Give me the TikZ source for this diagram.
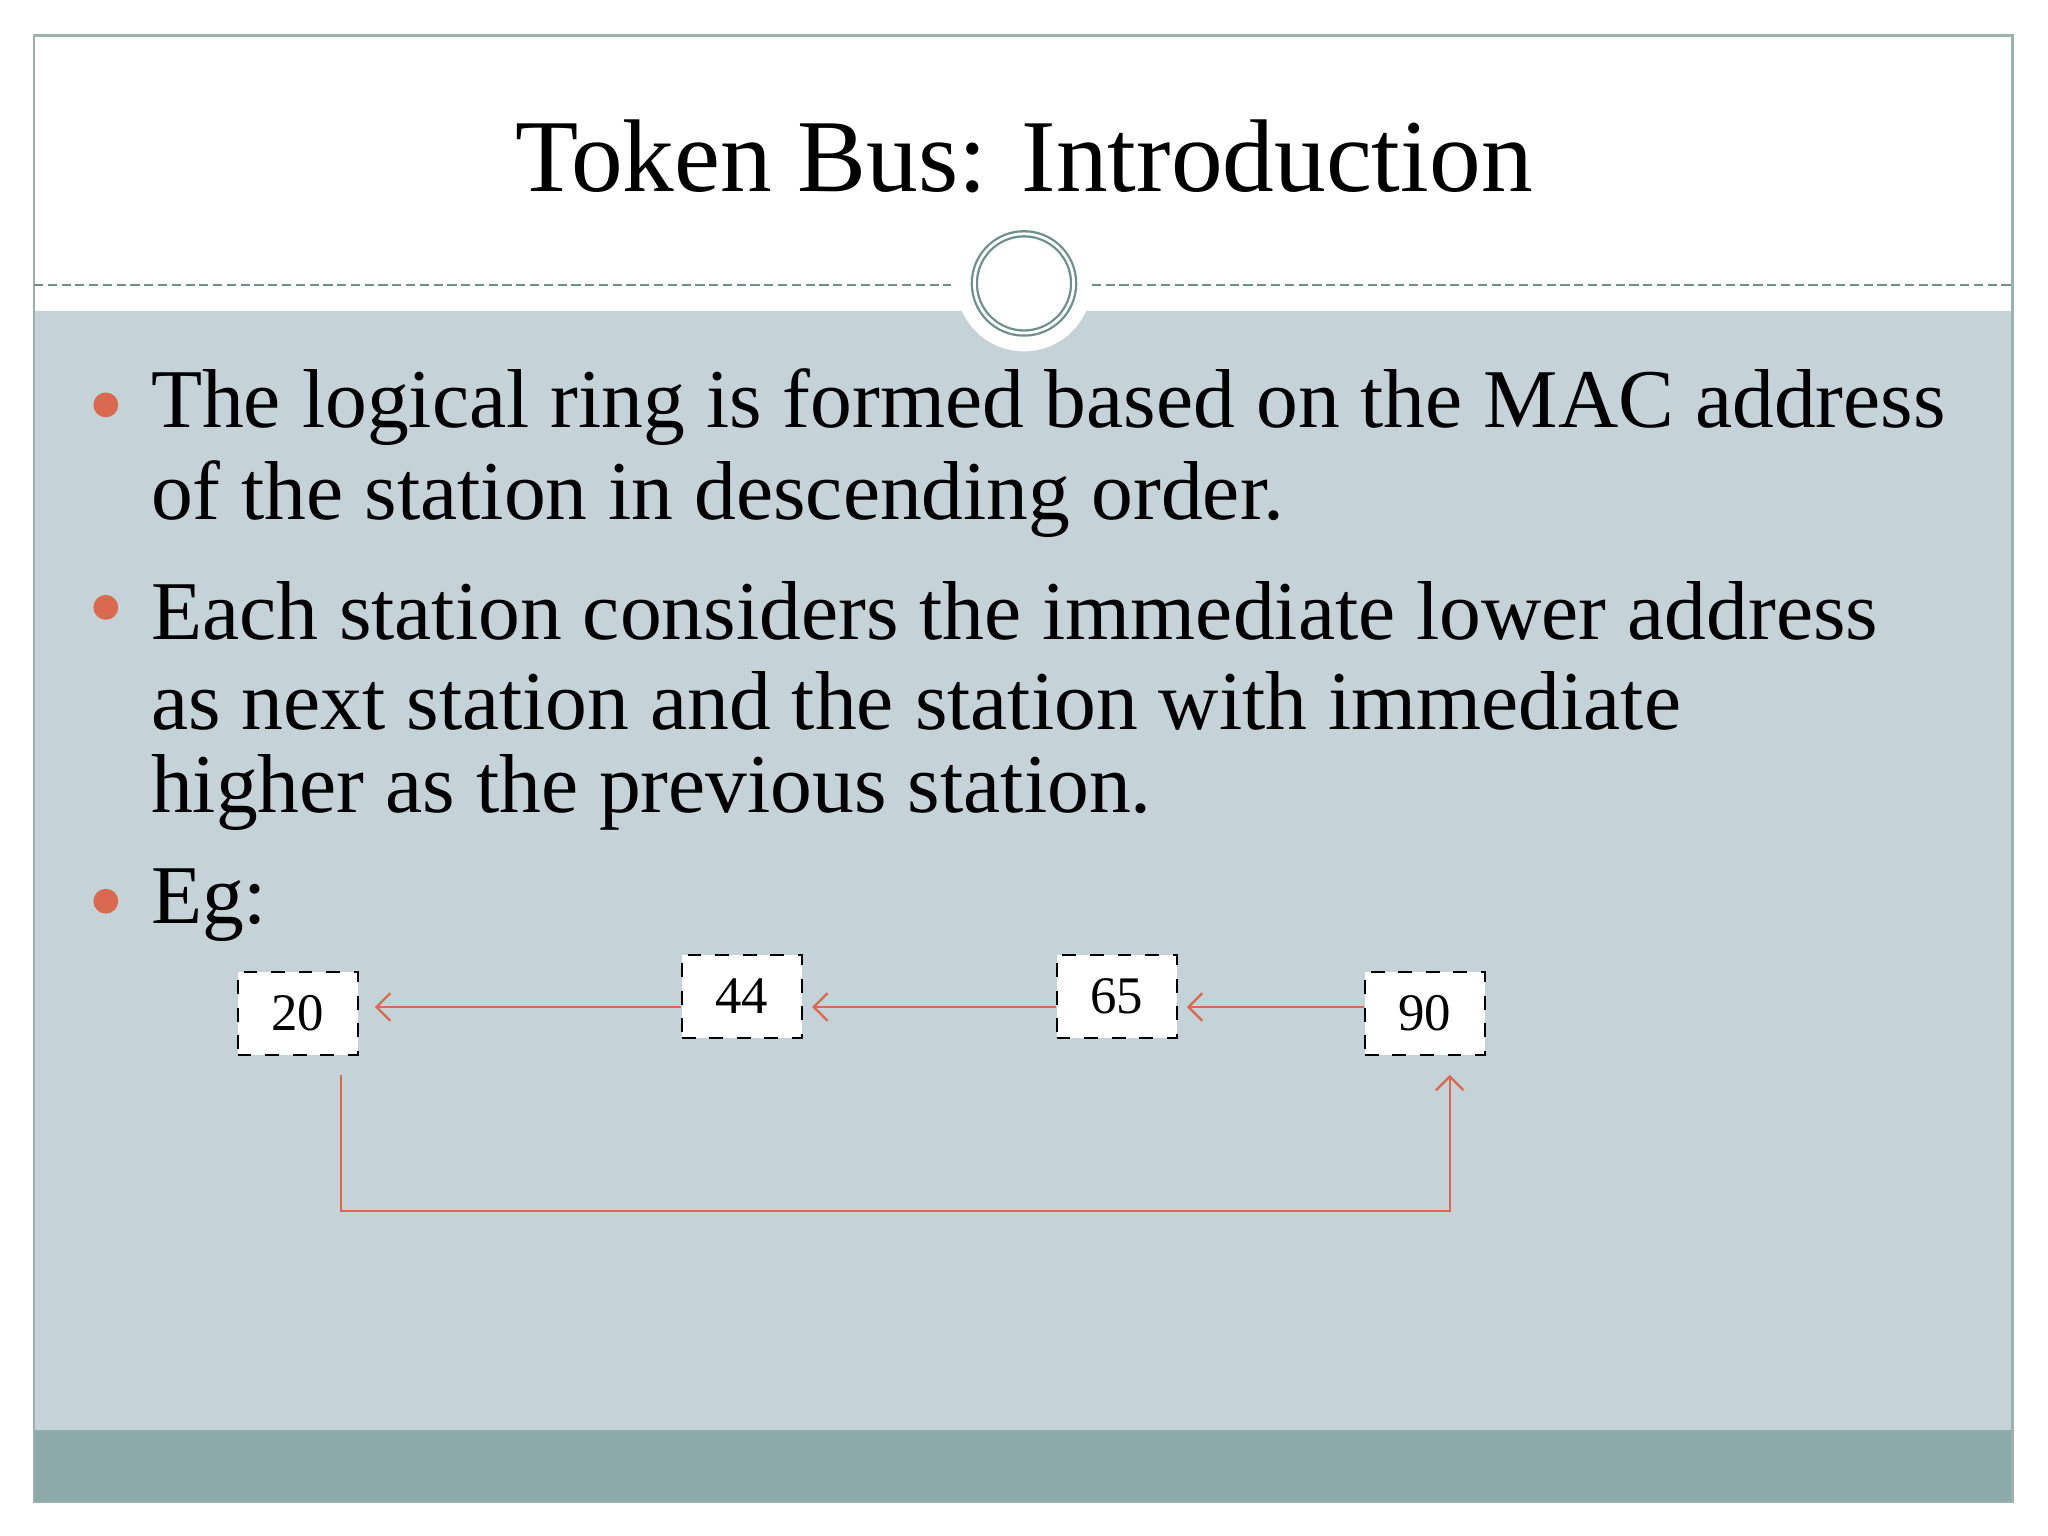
\documentclass[tikz,border=0pt]{standalone}
\usepackage{fontspec}
\setmainfont{Liberation Serif}
\usetikzlibrary{arrows.meta}
\definecolor{bg}{HTML}{C5D2D8}
\definecolor{bar}{HTML}{8CABA8}
\definecolor{teal}{HTML}{6E8F8C}
\definecolor{acc}{HTML}{D9694F}
\begin{document}
\begin{tikzpicture}[x=0.01cm,y=-0.01cm,
  box/.style={draw=black,dashed,fill=white,minimum width=0.92cm,minimum height=0.63cm,inner sep=0pt,font=\fontsize{11.5}{11.5}\selectfont},
  conn/.style={draw=acc,line width=0.5pt,-{Straight Barb[length=3pt,width=6pt]}},
  body/.style={anchor=west,inner sep=0pt,font=\fontsize{18.2}{18.2}\selectfont},
  dot/.style={circle,fill=acc,inner sep=0pt,minimum size=0.19cm}]
\useasboundingbox (0,0) rectangle (1568,1176);
\fill[white] (0,0) rectangle (1568,1176);
\fill[bg] (26,238) rectangle (1541,1095);
\fill[bar] (26,1095) rectangle (1541,1150);
\draw[teal!70,line width=0.6pt] (26,27) rectangle (1541,1150);
\draw[teal,dashed,line width=0.4pt,dash pattern=on 2pt off 1pt] (26,218) -- (728,218);
\draw[teal,dashed,line width=0.4pt,dash pattern=on 2pt off 1pt] (836,218) -- (1541,218);
\fill[white] (784,217) circle (52);
\draw[teal,line width=1.6pt] (784,217) circle (38);
\draw[white,line width=0.6pt] (784,217) circle (38);
\node[font=\fontsize{22.5}{22.5}\selectfont] (title) at (784,120) {Token Bus: Introduction};
\node[dot] (b1) at (81,310) {};
\node[dot] (b2) at (81,465) {};
\node[dot] (b3) at (81,690) {};
\node[body] (t1) at (115,312) {The logical ring is formed based on the MAC address};
\node[body] (t2) at (115,382) {of the station in descending order.};
\node[body] (t3) at (115,468) {Each station considers the immediate lower address};
\node[body] (t4) at (115,537) {as next station and the station with immediate};
\node[body] (t5) at (115,607) {higher as the previous station.};
\node[body] (t6) at (115,693) {Eg:};
\node[box] (n20) at (228,776) {20};
\node[box] (n44) at (568,763) {44};
\node[box] (n65) at (855,763) {65};
\node[box] (n90) at (1091,776) {90};
\coordinate (a20) at (287,771);
\coordinate (l1) at (261,823);
\coordinate (l4) at (1110,823);
\draw[conn] (n90.west |- 0,771) -- ([xshift=2pt]n65.east |- 0,771);
\draw[conn] (n65.west |- 0,771) -- ([xshift=2pt]n44.east |- 0,771);
\draw[conn] (n44.west |- 0,771) -- (a20);
\draw[conn] (l1) -- (261,927) -- (1110,927) -- (l4);
\end{tikzpicture}
\end{document}
